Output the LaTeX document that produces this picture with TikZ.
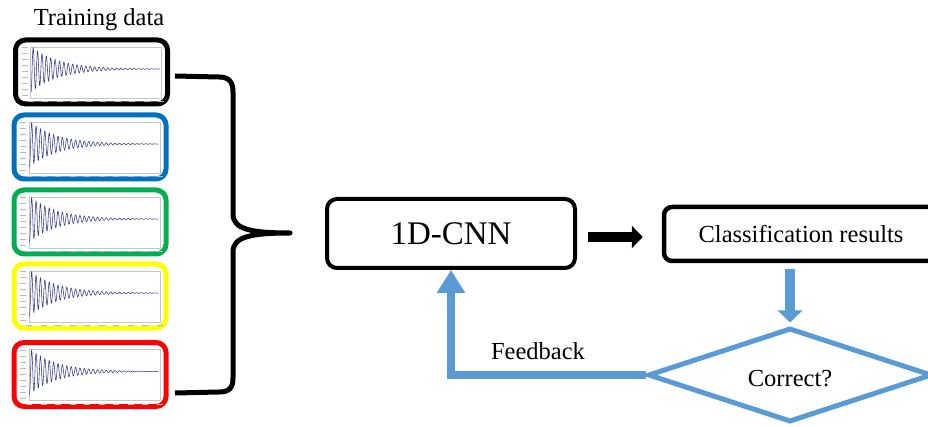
\documentclass[tikz,border=0pt]{standalone}
\usepackage{fontspec}
\setmainfont{Liberation Serif}
\usetikzlibrary{arrows.meta,shapes.geometric,calc}
\definecolor{cblue}{HTML}{0070C0}
\definecolor{cgreen}{HTML}{00B050}
\definecolor{cyellow}{HTML}{FFFF00}
\definecolor{cred}{HTML}{FF0000}
\definecolor{lblue}{HTML}{5B9BD5}
\definecolor{navy}{HTML}{34388A}
\tikzset{
  databox/.style={draw, line width=5pt, rounded corners=10pt, minimum width=152pt, minimum height=64pt, inner sep=0pt},
  procbox/.style={draw, line width=4pt, rounded corners=10pt, inner sep=0pt},
  lbl/.style={font=\fontsize{24.5}{28}\selectfont},
  plotframe/.style={draw=gray!45, line width=0.4pt},
  ticklbl/.style={draw=gray!55, line width=1pt},
  signal/.style={draw=navy, line width=0.55pt},
  bluearrow/.style={draw=lblue, line width=10pt, -{Triangle[length=12pt,width=24pt]}},
  fbarrow/.style={draw=lblue, line width=8pt, -{Triangle[length=23pt,width=27pt]}},
  blackarrow/.style={draw=black, line width=10pt, -{Triangle[length=11pt,width=22pt]}},
  bracestyle/.style={draw=black, line width=5pt, line join=round}
}
\begin{document}
\begin{tikzpicture}[x=1pt,y=-1pt]
\useasboundingbox (0,0) rectangle (928,427);
\clip (0,0) rectangle (928,427);

\node[lbl, anchor=base] (title) at (99,26) {Training data};

\foreach \n/\c/\cx/\cy in {d1/black/91.5/72, d2/cblue/90/147, d3/cgreen/90/222, d4/cyellow/90/296, d5/cred/90/374.5} {
  \node[databox, draw=\c] (\n) at (\cx,\cy) {};
  \begin{scope}[shift={(\cx,\cy)}]
    \draw[plotframe] (-61,-25) rectangle (70,26);
    \foreach \ty in {-24,-18,...,24} \draw[ticklbl] (-70,\ty) -- (-64,\ty);
    \foreach \tx in {-61,-46.5,...,70} \draw[ticklbl] (\tx-3,29.5) -- (\tx+3,29.5);
    \draw[signal] plot[domain=0:129, samples=700] ({-60.5+\x}, {-3 + 23*exp(-\x/27)*cos(82*\x)});
  \end{scope}
}

\draw[bracestyle] (175,76) -- (219,77) .. controls (229,77) and (233,82) .. (233,92)
  -- (233,214) .. controls (233,229) and (250,233) .. (290,233)
  .. controls (250,233) and (233,237) .. (233,252)
  -- (233,378) .. controls (233,388) and (229,392) .. (219,392) -- (175,393);

\node[procbox, minimum width=248pt, minimum height=69pt, font=\fontsize{33}{36}\selectfont] (cnn) at (451,233.5) {1D-CNN};
\node[procbox, line width=4.5pt, rounded corners=8pt, minimum width=274pt, minimum height=54pt, lbl] (cls) at (801,234) {Classification results};
\node[diamond, draw=lblue, line width=5pt, aspect=3, inner sep=0pt, minimum width=284pt, minimum height=94pt, text height=24pt, lbl] (cor) at (790,375) {Correct?};
\node[lbl, anchor=base] (fb) at (538,359) {Feedback};

\draw[blackarrow, shorten <=11pt, shorten >=19pt] ($(cnn.east)+(0,3.5)$) -- ($(cls.west)+(0,3)$);
\draw[bluearrow, shorten <=6pt, shorten >=3pt] (cls.south -| cor.north) -- (cor.north);
\draw[fbarrow] (cor.west) -| (cnn.south);
\end{tikzpicture}
\end{document}
